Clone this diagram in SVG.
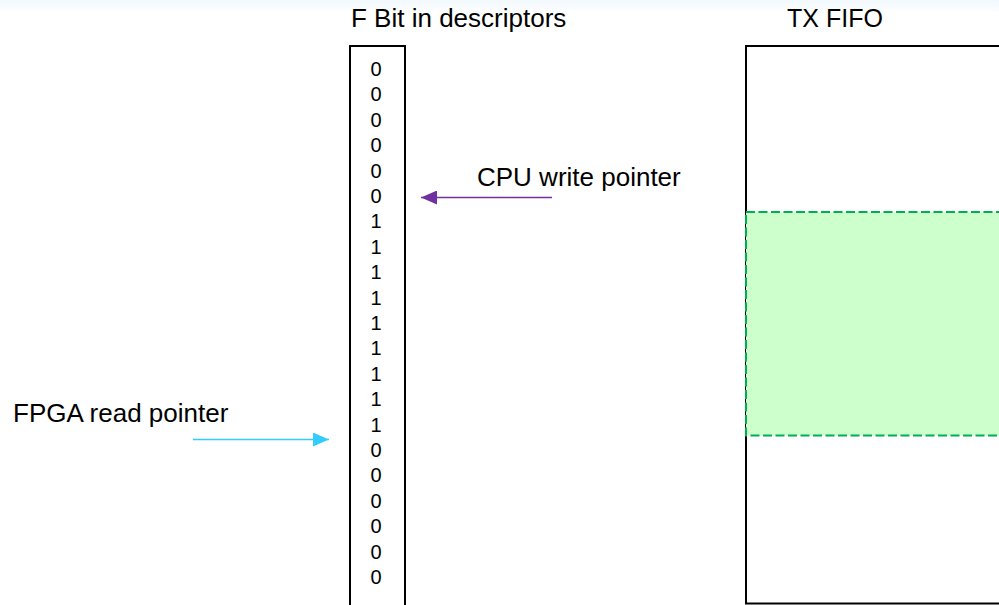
<svg xmlns="http://www.w3.org/2000/svg" width="999" height="605" viewBox="0 0 999 605">
<defs>
<linearGradient id="topg" x1="0" y1="0" x2="0" y2="1">
<stop offset="0" stop-color="#f2f9fd"/>
<stop offset="1" stop-color="#ffffff"/>
</linearGradient>
<marker id="ahP" markerWidth="16" markerHeight="14" refX="16" refY="7" orient="auto" markerUnits="userSpaceOnUse">
<path d="M0,0 L16,7 L0,14 Z" fill="#7030a0"/>
</marker>
<marker id="ahB" markerWidth="16" markerHeight="14" refX="16" refY="7" orient="auto" markerUnits="userSpaceOnUse">
<path d="M0,0 L16,7 L0,14 Z" fill="#33ccff"/>
</marker>
</defs>
<style>
.lbl{font-family:"Liberation Sans",Arial,sans-serif;font-size:26px;fill:#000}
.dig{font-family:"Liberation Sans",Arial,sans-serif;font-size:20px;fill:#000;text-anchor:middle}
.box{fill:#fff;stroke:#000;stroke-width:2}
</style>
<rect x="0" y="0" width="999" height="605" fill="#fff"/>
<rect x="0" y="0" width="999" height="14" fill="url(#topg)"/>
<g id="title-fbit"><text class="lbl" x="351" y="27">F Bit in descriptors</text></g>
<g id="title-txfifo"><text class="lbl" x="835" y="27" text-anchor="middle" style="font-size:25px">TX FIFO</text></g>
<g id="descriptors">
<rect class="box" x="350" y="46" width="55" height="570"/>
<text class="dig" x="376" y="76">0</text>
<text class="dig" x="376" y="101.4">0</text>
<text class="dig" x="376" y="126.8">0</text>
<text class="dig" x="376" y="152.2">0</text>
<text class="dig" x="376" y="177.6">0</text>
<text class="dig" x="376" y="203">0</text>
<text class="dig" x="376" y="228.4">1</text>
<text class="dig" x="376" y="253.8">1</text>
<text class="dig" x="376" y="279.2">1</text>
<text class="dig" x="376" y="304.6">1</text>
<text class="dig" x="376" y="330">1</text>
<text class="dig" x="376" y="355.4">1</text>
<text class="dig" x="376" y="380.8">1</text>
<text class="dig" x="376" y="406.2">1</text>
<text class="dig" x="376" y="431.6">1</text>
<text class="dig" x="376" y="457">0</text>
<text class="dig" x="376" y="482.4">0</text>
<text class="dig" x="376" y="507.8">0</text>
<text class="dig" x="376" y="533.2">0</text>
<text class="dig" x="376" y="558.6">0</text>
<text class="dig" x="376" y="584">0</text>
</g>
<g id="txfifo">
<rect class="box" x="746" y="46" width="270" height="557.5"/>
<rect x="746" y="212" width="270" height="223.5" fill="#ccffcc" stroke="#00b050" stroke-width="2" stroke-dasharray="9,3.5"/>
</g>
<g id="label-cpu"><text class="lbl" x="477" y="186">CPU write pointer</text></g>
<g id="label-fpga"><text class="lbl" x="13" y="422">FPGA read pointer</text></g>
<g id="connectors">
<line x1="552" y1="197.5" x2="421" y2="197.5" stroke="#7030a0" stroke-width="1.5" marker-end="url(#ahP)"/>
<line x1="193" y1="439.5" x2="329" y2="439.5" stroke="#33ccff" stroke-width="1.5" marker-end="url(#ahB)"/>
</g>
</svg>
